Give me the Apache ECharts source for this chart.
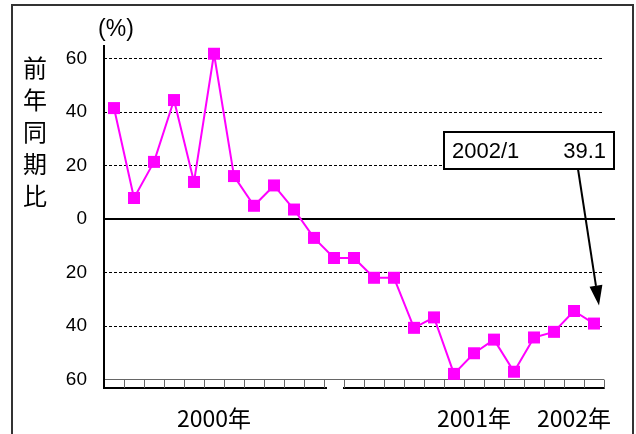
<!DOCTYPE html>
<html>
<head>
<meta charset="utf-8">
<script src="https://cdn.jsdelivr.net/npm/echarts@6/dist/echarts.min.js"></script>
<style>
html,body{margin:0;padding:0;background:#fff;}
#c{width:636px;height:434px;}
</style>
</head>
<body>
<div id="c"></div>
<script>
// ---- data ----
var categories = ['2000/1','2000/2','2000/3','2000/4','2000/5','2000/6','2000/7','2000/8','2000/9','2000/10','2000/11','2000/12',
  '2001/1','2001/2','2001/3','2001/4','2001/5','2001/6','2001/7','2001/8','2001/9','2001/10','2001/11','2001/12','2002/1'];
var values = [41.4, 7.8, 21.3, 44.4, 13.8, 61.7, 16.0, 4.9, 12.5, 3.5, -7.1, -14.6,
  -14.6, -22.0, -22.0, -40.7, -36.8, -57.9, -50.2, -45.1, -57.1, -44.3, -42.2, -34.4, -39.1];
var yTicks = [-60, -40, -20, 0, 20, 40, 60];
var yearLabels = ['2000年', '2001年', '2002年'];
var yearLabelPos = [5, 17.5, 23];   // category index positions of year labels
var yTitle = '前年同期比';
var unitLabel = '(%)';

var JP = '"Noto Sans CJK JP", "Liberation Sans", sans-serif';
var LAT = '"Liberation Sans", Arial, sans-serif';

var chart = echarts.init(document.getElementById('c'), null, {renderer: 'canvas'});
var option = {
  animation: false,
  backgroundColor: '#fff',
  grid: {left: 104, right: 32, top: 58.3, bottom: 54.5},
  xAxis: [{
    type: 'category', data: categories, boundaryGap: true, position: 'bottom', offset: 8.5,
    axisLine: {show: true, onZero: false, lineStyle: {color: '#000', width: 2}},
    axisTick: {show: true, inside: true, length: 8, interval: 0, lineStyle: {color: '#666', width: 1}},
    axisLabel: {show: false}, splitLine: {show: false}
  }, {
    type: 'category', data: categories, boundaryGap: true, position: 'bottom', offset: 0,
    axisLine: {show: true, onZero: false, lineStyle: {color: '#666', width: 1}},
    axisTick: {show: false}, axisLabel: {show: false}, splitLine: {show: false}
  }],
  yAxis: {
    type: 'value', min: yTicks[0], max: yTicks[yTicks.length - 1], interval: 20,
    axisLine: {show: false}, axisTick: {show: false},
    axisLabel: {margin: 17, fontSize: 19, color: '#000', fontFamily: LAT,
      formatter: function (v) { return String(Math.abs(v)); }},
    splitLine: {show: true, showMinLine: false, lineStyle: {color: '#000', width: 1, type: [3, 2]}}
  },
  series: [{
    type: 'line', data: values, xAxisIndex: 0, clip: false, z: 20,
    symbol: 'rect', symbolSize: 12,
    lineStyle: {color: '#ff00ff', width: 2},
    itemStyle: {color: '#ff00ff'}
  }]
};
chart.setOption(option);

function px(i, v) { return chart.convertToPixel({xAxisIndex: 0, yAxisIndex: 0}, [i, v]); }

var zero = px(0, 0);
var leftX = 104;
var last = values.length - 1;
var lastPt = px(last, values[last]);
var tip = [lastPt[0] + 5, lastPt[1] - 18];
var boxX = 444, boxY = 132, boxW = 170, boxH = 37;
var start = [578, boxY + boxH];
var headLen = 20, headW = 13;
var dx = tip[0] - start[0], dy = tip[1] - start[1];
var L = Math.sqrt(dx * dx + dy * dy), ux = dx / L, uy = dy / L;
var base = [tip[0] - ux * headLen, tip[1] - uy * headLen];
var nx = -uy, ny = ux;

var graphics = [
  // outer frame
  {type: 'rect', shape: {x: 12, y: 5, width: 621, height: 445}, style: {fill: 'none', stroke: '#333', lineWidth: 2}, z: 1},
  // y axis line
  {type: 'line', shape: {x1: leftX, y1: 45, x2: leftX, y2: 389}, style: {stroke: '#000', lineWidth: 2}, z: 10},
  // zero line
  {type: 'line', shape: {x1: leftX, y1: zero[1], x2: 615, y2: zero[1]}, style: {stroke: '#000', lineWidth: 2}, z: 10},
  // gap in bottom axis line
  {type: 'rect', shape: {x: 327, y: 386, width: 16, height: 5}, style: {fill: '#fff'}, z: 11},
  // y title
  {type: 'text', x: 35, y: 52, style: {text: yTitle.split('').join('\n'), font: '24px ' + JP, fill: '#000', align: 'center', verticalAlign: 'top', lineHeight: 32}, z: 10},
  // unit
  {type: 'text', x: 116, y: 30, style: {text: unitLabel, font: '23px ' + LAT, fill: '#000', align: 'center', verticalAlign: 'middle'}, z: 10},
  // annotation box
  {type: 'rect', shape: {x: boxX, y: boxY, width: boxW, height: boxH}, style: {fill: '#fff', stroke: '#000', lineWidth: 2}, z: 12},
  {type: 'text', x: boxX + 8, y: boxY + boxH / 2 + 1, style: {text: categories[last], font: '22px ' + LAT, fill: '#000', align: 'left', verticalAlign: 'middle'}, z: 13},
  {type: 'text', x: boxX + boxW - 8, y: boxY + boxH / 2 + 1, style: {text: Math.abs(values[last]).toFixed(1), font: '22px ' + LAT, fill: '#000', align: 'right', verticalAlign: 'middle'}, z: 13},
  // arrow
  {type: 'line', shape: {x1: start[0], y1: start[1], x2: base[0], y2: base[1]}, style: {stroke: '#000', lineWidth: 2}, z: 12},
  {type: 'polygon', shape: {points: [tip, [base[0] + nx * headW / 2, base[1] + ny * headW / 2], [base[0] - nx * headW / 2, base[1] - ny * headW / 2]]}, style: {fill: '#000'}, z: 12}
];
for (var k = 0; k < yearLabels.length; k++) {
  var p = px(yearLabelPos[k], 0);
  graphics.push({type: 'text', x: p[0], y: 418, style: {text: yearLabels[k], font: '23px ' + JP, fill: '#000', align: 'center', verticalAlign: 'middle'}, z: 10});
}
chart.setOption({graphic: graphics});
</script>
</body>
</html>
